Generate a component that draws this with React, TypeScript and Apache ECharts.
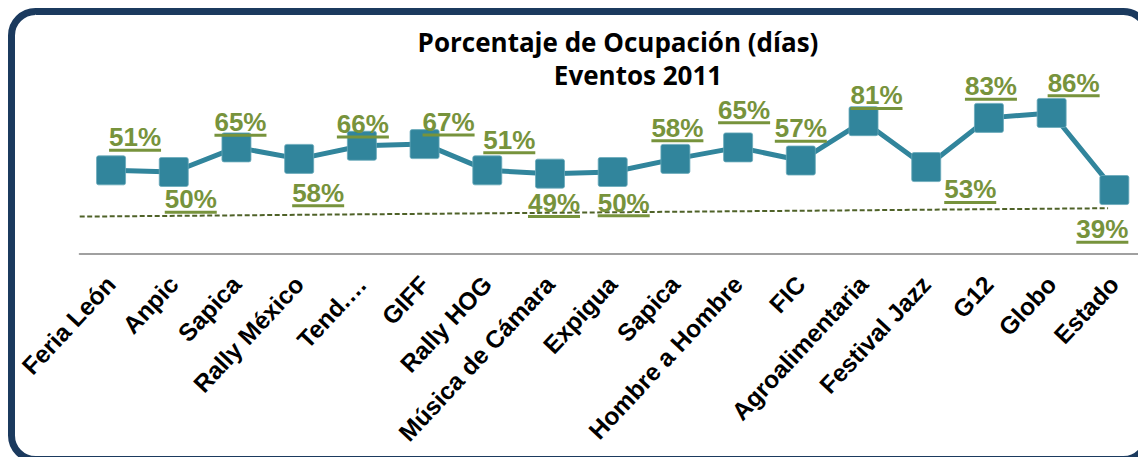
import React, { useEffect, useRef } from "react";
import * as echarts from "echarts";

const categories = [
  "Feria León", "Anpic", "Sapica", "Rally México", "Tend.…", "GIFF", "Rally HOG",
  "Música de Cámara", "Expigua", "Sapica", "Hombre a Hombre", "FIC",
  "Agroalimentaria", "Festival Jazz", "G12", "Globo", "Estado",
];
const values = [51, 50, 65, 58, 66, 67, 51, 49, 50, 58, 65, 57, 81, 53, 83, 86, 39];
// dashed trend line: [position in category units, percentage]
const trendPoints = [
  [0, 22.8],
  [16.4, 27.9],
];
const titleLine1 = "Porcentaje de Ocupación (días)";
const titleLine2 = "Eventos 2011";

// label placement relative to each marker (layout only)
const labelOffsets = [
  [24, -33.5], [17, 27], [4, -25.5], [19, 33.5], [1, -22], [24, -22.5], [22, -31],
  [4, 29.5], [11, 30.5], [2, -31.5], [6, -38], [0, -32.5], [13, -26], [44, 22],
  [2, -32], [22, -30.5], [-12, 39],
];

const GREEN = "#77933c";
const TEAL = "#31859c";
const MARKER = "path://M2,0 H27 Q29,0 29,2 V27 Q29,29 27,29 H2 Q0,29 0,27 V2 Q0,0 2,0 Z";

export default function App() {
  const ref = useRef<HTMLDivElement>(null);
  useEffect(() => {
    document.body.style.margin = "0";
    const chart = echarts.init(ref.current!, undefined, { renderer: "svg" });
    const option: any = {
      animation: false,
      backgroundColor: "#ffffff",
      title: [
        {
          text: titleLine1,
          left: 618,
          top: 29,
          padding: 0,
          textAlign: "center",
          textStyle: { fontFamily: "Open Sans", fontWeight: "bold", fontSize: 26, color: "#000" },
        },
        {
          text: titleLine2,
          left: 638,
          top: 62,
          padding: 0,
          textAlign: "center",
          textStyle: { fontFamily: "Open Sans", fontWeight: "bold", fontSize: 26, color: "#000" },
        },
      ],
      grid: { left: 79.7, top: 90, width: 1066, height: 164, containLabel: false },
      xAxis: [
        {
          type: "category",
          data: categories,
          boundaryGap: true,
          axisLine: { lineStyle: { color: "#a0a0a0", width: 2 } },
          axisTick: { show: false },
          axisLabel: {
            interval: 0,
            rotate: 47,
            margin: 26,
            color: "#000",
            fontFamily: "Liberation Sans, Arial, sans-serif",
            fontWeight: "bold",
            fontSize: 24.5,
          },
        },
        { type: "value", min: 0, max: 17, show: false },
      ],
      yAxis: { type: "value", min: 0, max: 100, show: false },
      series: [
        {
          type: "line",
          xAxisIndex: 1,
          data: trendPoints,
          symbol: "none",
          silent: true,
          lineStyle: { color: "#4f6228", width: 2, type: [5, 2.5] },
          z: 1,
        },
        {
          type: "line",
          data: values.map((v, i) => ({
            value: v,
            label: { offset: [labelOffsets[i][0], labelOffsets[i][1] + 1.8] },
          })),
          symbol: MARKER,
          symbolSize: 29,
          lineStyle: { color: TEAL, width: 5 },
          itemStyle: { color: TEAL, borderColor: "#6aa9ba", borderWidth: 0.8 },
          z: 3,
          label: {
            show: true,
            position: "inside",
            formatter: (p: any) => `{v|${p.value}%}\n{u| }`,
            rich: {
              v: {
                fontFamily: "Liberation Sans, Arial, sans-serif",
                fontWeight: "bold",
                fontSize: 26,
                lineHeight: 23,
                color: GREEN,
                align: "center",
              },
              u: {
                width: 52,
                height: 3,
                lineHeight: 3,
                fontSize: 1,
                backgroundColor: GREEN,
                align: "center",
              },
            },
          },
        },
      ],
      graphic: [
        {
          type: "rect",
          shape: { x: 11.5, y: 11.5, width: 1136, height: 448, r: 24 },
          style: { fill: "none", stroke: "#1b3a5e", lineWidth: 7 },
          silent: true,
          z: 10,
        },
      ],
    };
    chart.setOption(option);
    return () => chart.dispose();
  }, []);
  return (
    <div style={{ width: 1138, height: 457, overflow: "hidden", position: "relative" }}>
      <div ref={ref} style={{ width: 1170, height: 457 }} />
    </div>
  );
}
